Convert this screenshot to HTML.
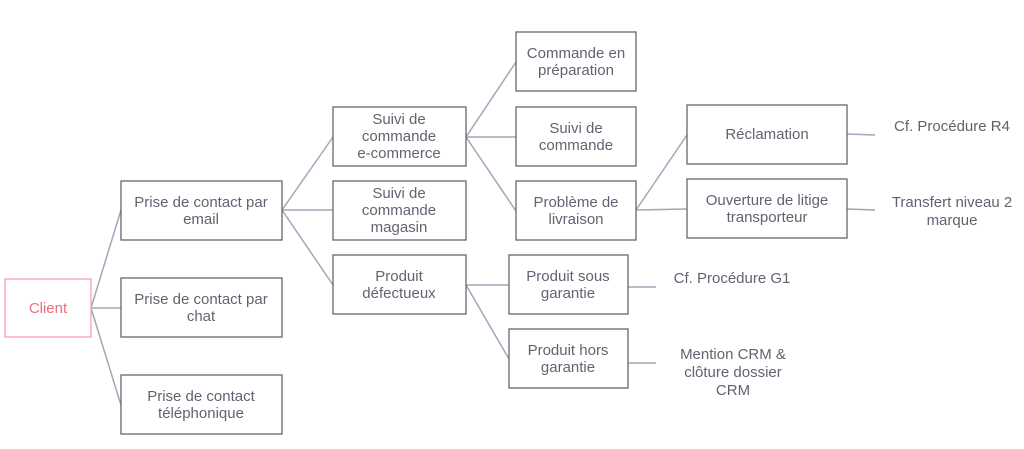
<!DOCTYPE html>
<html><head><meta charset="utf-8"><style>
body{margin:0;background:#fff;}
svg text{font-family:"Liberation Sans",sans-serif;font-size:15px;fill:#5f6470;text-anchor:middle;}
</style></head><body>
<svg width="1024" height="444" viewBox="0 0 1024 444" xmlns="http://www.w3.org/2000/svg">
<g stroke="#a3a6ba" stroke-width="1.5" fill="none">
<path d="M91 308L121 210M91 308L121 308M91 308L121 405"/>
<path d="M282 210L333 137M282 210L333 210M282 210L333 285"/>
<path d="M466 137L516 62M466 137L516 137M466 137L516 211"/>
<path d="M636 210L687 135M636 210L687 209"/>
<path d="M466 285L509 285M466 285L509 359"/>
<path d="M847 134L875 135M847 209L875 210M628 287L656 287M628 363L656 363"/>
</g>
<g fill="#fff" stroke="#666" stroke-width="1.3">
<rect x="121" y="181" width="161" height="59"/>
<rect x="121" y="278" width="161" height="59"/>
<rect x="121" y="375" width="161" height="59"/>
<rect x="333" y="107" width="133" height="59"/>
<rect x="333" y="181" width="133" height="59"/>
<rect x="333" y="255" width="133" height="59"/>
<rect x="516" y="32" width="120" height="59"/>
<rect x="516" y="107" width="120" height="59"/>
<rect x="516" y="181" width="120" height="59"/>
<rect x="687" y="105" width="160" height="59"/>
<rect x="687" y="179" width="160" height="59"/>
<rect x="509" y="255" width="119" height="59"/>
<rect x="509" y="329" width="119" height="59"/>
</g>
<rect x="5" y="279" width="86" height="58" fill="#fff" stroke="#f7a0aa" stroke-width="1.3"/>
<text x="48" y="313" style="fill:#f26d7d">Client</text>
<text x="201" y="207">Prise de contact par</text><text x="201" y="224">email</text>
<text x="201" y="304">Prise de contact par</text><text x="201" y="321">chat</text>
<text x="201" y="401">Prise de contact</text><text x="201" y="418">téléphonique</text>
<text x="399" y="124">Suivi de</text><text x="399" y="141">commande</text><text x="399" y="158">e-commerce</text>
<text x="399" y="198">Suivi de</text><text x="399" y="215">commande</text><text x="399" y="232">magasin</text>
<text x="399" y="281">Produit</text><text x="399" y="298">défectueux</text>
<text x="576" y="58">Commande en</text><text x="576" y="75">préparation</text>
<text x="576" y="133">Suivi de</text><text x="576" y="150">commande</text>
<text x="576" y="207">Problème de</text><text x="576" y="224">livraison</text>
<text x="767" y="139">Réclamation</text>
<text x="767" y="205">Ouverture de litige</text><text x="767" y="222">transporteur</text>
<text x="568" y="281">Produit sous</text><text x="568" y="298">garantie</text>
<text x="568" y="355">Produit hors</text><text x="568" y="372">garantie</text>
<text x="952" y="131">Cf. Procédure R4</text>
<text x="952" y="207">Transfert niveau 2</text><text x="952" y="225">marque</text>
<text x="732" y="283">Cf. Procédure G1</text>
<text x="733" y="359">Mention CRM &amp;</text><text x="733" y="377">clôture dossier</text><text x="733" y="395">CRM</text>
</svg>
</body></html>
